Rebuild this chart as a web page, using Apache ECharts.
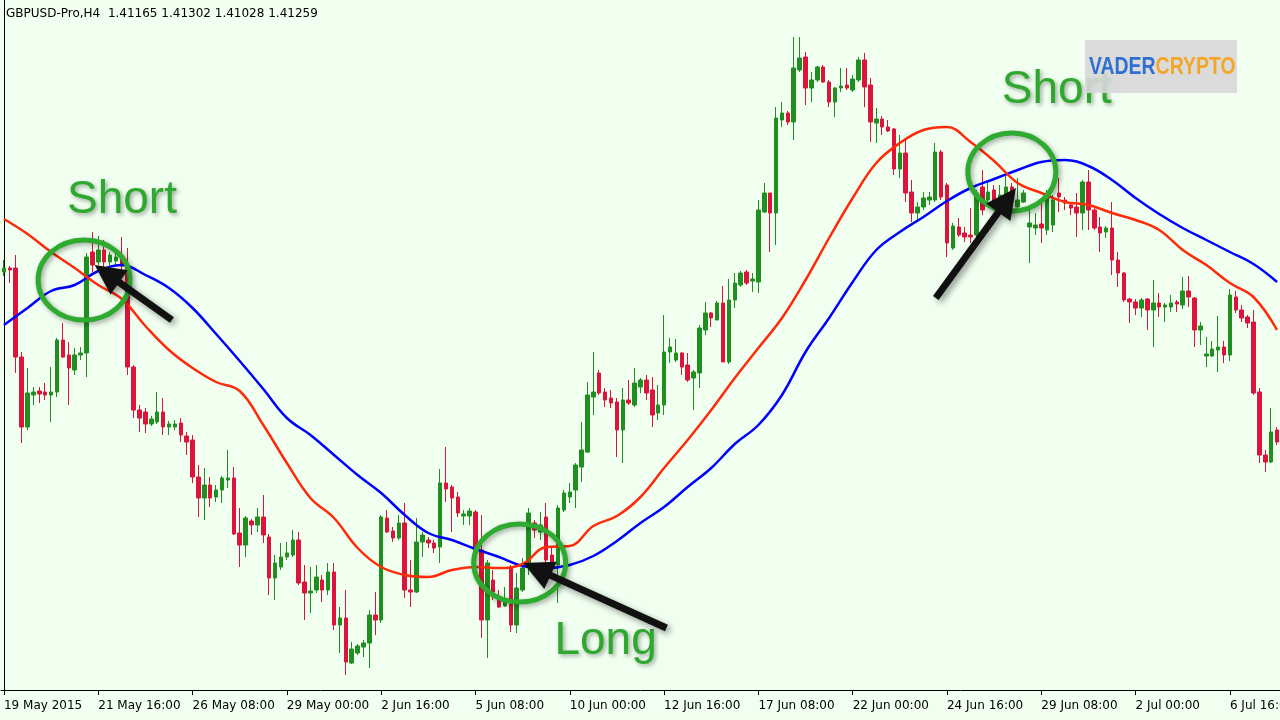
<!DOCTYPE html>
<html><head><meta charset="utf-8">
<script src="https://cdn.jsdelivr.net/npm/echarts@6/dist/echarts.min.js"></script>
<style>html,body{margin:0;padding:0;background:#f0fff0;}#c{width:1280px;height:720px;}</style>
</head><body><div id="c"></div>
<script>
// ---- data ----
const headerText = 'GBPUSD-Pro,H4  1.41165 1.41302 1.41028 1.41259';
const tickLabels = ['19 May 2015','21 May 16:00','26 May 08:00','29 May 00:00','2 Jun 16:00','5 Jun 08:00','10 Jun 00:00','12 Jun 16:00','17 Jun 08:00','22 Jun 00:00','24 Jun 16:00','29 Jun 08:00','2 Jul 00:00','6 Jul 16:00'];
const TICK_EVERY = 16;
// H4 candles: [open, close, low, high]
const candles = [
[1.5628,1.5632,1.5624,1.5640],[1.5632,1.5630,1.5617,1.5634],[1.5632,1.5543,1.5527,1.5645],[1.5543,1.5473,1.5457,1.5548],
[1.5473,1.5507,1.5470,1.5532],[1.5505,1.5508,1.5495,1.5513],[1.5509,1.5506,1.5497,1.5513],[1.5508,1.5505,1.5500,1.5517],
[1.5505,1.5508,1.5478,1.5533],[1.5508,1.5560,1.5503,1.5562],[1.5560,1.5543,1.5542,1.5577],[1.5545,1.5532,1.5495,1.5558],
[1.5530,1.5545,1.5525,1.5552],[1.5545,1.5547,1.5540,1.5553],[1.5547,1.5643,1.5523,1.5647],[1.5648,1.5635,1.5628,1.5668],
[1.5638,1.5650,1.5635,1.5664],[1.5650,1.5638,1.5632,1.5660],[1.5638,1.5645,1.5635,1.5648],[1.5639,1.5643,1.5634,1.5650],
[1.5643,1.5634,1.5628,1.5663],[1.5634,1.5533,1.5525,1.5652],[1.5533,1.5490,1.5482,1.5535],[1.5490,1.5482,1.5468,1.5495],
[1.5488,1.5476,1.5467,1.5492],[1.5476,1.5481,1.5474,1.5484],[1.5478,1.5488,1.5476,1.5508],[1.5488,1.5473,1.5465,1.5502],
[1.5473,1.5476,1.5465,1.5479],[1.5473,1.5476,1.5470,1.5480],[1.5477,1.5465,1.5458,1.5482],[1.5464,1.5458,1.5445,1.5468],
[1.5460,1.5423,1.5417,1.5465],[1.5423,1.5402,1.5383,1.5435],[1.5402,1.5415,1.5380,1.5432],[1.5415,1.5402,1.5393,1.5423],
[1.5403,1.5410,1.5398,1.5415],[1.5410,1.5422,1.5397,1.5424],[1.5420,1.5422,1.5412,1.5450],[1.5422,1.5366,1.5365,1.5433],
[1.5367,1.5355,1.5333,1.5392],[1.5355,1.5382,1.5343,1.5384],[1.5379,1.5375,1.5365,1.5381],[1.5375,1.5383,1.5368,1.5392],
[1.5383,1.5365,1.5357,1.5405],[1.5363,1.5322,1.5305,1.5366],[1.5322,1.5337,1.5300,1.5345],[1.5333,1.5343,1.5330,1.5357],
[1.5343,1.5347,1.5340,1.5358],[1.5345,1.5360,1.5343,1.5370],[1.5360,1.5317,1.5315,1.5368],[1.5318,1.5307,1.5280,1.5335],
[1.5307,1.5309,1.5287,1.5333],[1.5310,1.5323,1.5307,1.5335],[1.5320,1.5310,1.5298,1.5325],[1.5310,1.5328,1.5305,1.5337],
[1.5328,1.5275,1.5270,1.5337],[1.5275,1.5282,1.5247,1.5293],[1.5282,1.5238,1.5225,1.5310],[1.5237,1.5251,1.5236,1.5258],
[1.5247,1.5254,1.5245,1.5256],[1.5253,1.5257,1.5243,1.5260],[1.5257,1.5285,1.5232,1.5290],[1.5285,1.5280,1.5265,1.5308],
[1.5280,1.5383,1.5277,1.5385],[1.5382,1.5368,1.5367,1.5390],[1.5369,1.5362,1.5358,1.5373],[1.5362,1.5377,1.5360,1.5385],
[1.5377,1.5310,1.5302,1.5397],[1.5310,1.5308,1.5293,1.5340],[1.5308,1.5358,1.5307,1.5382],[1.5358,1.5365,1.5343,1.5368],
[1.5360,1.5357,1.5352,1.5363],[1.5357,1.5352,1.5347,1.5360],[1.5353,1.5417,1.5337,1.5431],[1.5417,1.5411,1.5398,1.5453],
[1.5413,1.5402,1.5368,1.5415],[1.5403,1.5387,1.5383,1.5408],[1.5384,1.5386,1.5375,1.5390],[1.5384,1.5389,1.5375,1.5392],
[1.5388,1.5350,1.5348,1.5390],[1.5350,1.5280,1.5262,1.5385],[1.5280,1.5337,1.5242,1.5340],[1.5320,1.5308,1.5300,1.5330],
[1.5302,1.5293,1.5292,1.5310],[1.5294,1.5300,1.5293,1.5313],[1.5333,1.5275,1.5268,1.5335],[1.5275,1.5312,1.5267,1.5327],
[1.5310,1.5332,1.5308,1.5342],[1.5333,1.5387,1.5325,1.5392],[1.5377,1.5370,1.5362,1.5380],[1.5368,1.5375,1.5360,1.5388],
[1.5383,1.5340,1.5337,1.5397],[1.5345,1.5338,1.5330,1.5352],[1.5335,1.5392,1.5297,1.5395],[1.5390,1.5407,1.5388,1.5410],
[1.5403,1.5408,1.5397,1.5417],[1.5410,1.5435,1.5392,1.5437],[1.5433,1.5450,1.5418,1.5478],[1.5448,1.5505,1.5447,1.5518],
[1.5503,1.5508,1.5485,1.5548],[1.5527,1.5507,1.5505,1.5530],[1.5508,1.5500,1.5493,1.5512],[1.5502,1.5497,1.5492,1.5510],
[1.5498,1.5470,1.5443,1.5502],[1.5470,1.5500,1.5437,1.5512],[1.5500,1.5497,1.5495,1.5520],[1.5495,1.5517,1.5493,1.5532],
[1.5513,1.5520,1.5507,1.5522],[1.5520,1.5507,1.5500,1.5525],[1.5510,1.5485,1.5473,1.5523],[1.5487,1.5495,1.5480,1.5515],
[1.5495,1.5548,1.5485,1.5585],[1.5548,1.5553,1.5537,1.5562],[1.5540,1.5547,1.5538,1.5561],[1.5547,1.5533,1.5525,1.5548],
[1.5535,1.5520,1.5518,1.5547],[1.5522,1.5528,1.5490,1.5530],[1.5527,1.5572,1.5512,1.5575],[1.5570,1.5587,1.5565,1.5598],
[1.5587,1.5582,1.5573,1.5588],[1.5580,1.5597,1.5580,1.5599],[1.5597,1.5538,1.5538,1.5614],[1.5538,1.5600,1.5536,1.5621],
[1.5600,1.5617,1.5592,1.5627],[1.5615,1.5627,1.5613,1.5629],[1.5628,1.5617,1.5615,1.5630],[1.5619,1.5621,1.5608,1.5627],
[1.5618,1.5690,1.5607,1.5700],[1.5688,1.5707,1.5687,1.5717],[1.5707,1.5687,1.5648,1.5707],[1.5687,1.5782,1.5655,1.5793],
[1.5780,1.5787,1.5773,1.5798],[1.5787,1.5778,1.5775,1.5789],[1.5778,1.5832,1.5760,1.5863],[1.5830,1.5842,1.5828,1.5863],
[1.5843,1.5812,1.5795,1.5848],[1.5812,1.5820,1.5798,1.5828],[1.5820,1.5833,1.5818,1.5834],[1.5833,1.5818,1.5817,1.5835],
[1.5818,1.5798,1.5793,1.5820],[1.5798,1.5812,1.5783,1.5813],[1.5812,1.5814,1.5808,1.5832],[1.5815,1.5812,1.5810,1.5832],
[1.5810,1.5821,1.5808,1.5825],[1.5820,1.5840,1.5818,1.5843],[1.5840,1.5813,1.5793,1.5847],[1.5815,1.5778,1.5758,1.5822],
[1.5777,1.5781,1.5757,1.5792],[1.5781,1.5773,1.5765,1.5784],[1.5773,1.5769,1.5768,1.5780],[1.5771,1.5731,1.5725,1.5772],
[1.5731,1.5747,1.5722,1.5765],[1.5747,1.5707,1.5698,1.5762],[1.5708,1.5687,1.5678,1.5720],[1.5687,1.5693,1.5680,1.5698],
[1.5693,1.5702,1.5690,1.5708],[1.5700,1.5703,1.5695,1.5708],[1.5700,1.5748,1.5698,1.5757],[1.5748,1.5703,1.5700,1.5750],
[1.5715,1.5657,1.5643,1.5717],[1.5652,1.5674,1.5650,1.5677],[1.5673,1.5665,1.5663,1.5682],[1.5667,1.5663,1.5658,1.5673],
[1.5665,1.5663,1.5657,1.5692],[1.5665,1.5707,1.5663,1.5710],[1.5713,1.5690,1.5685,1.5730],[1.5700,1.5708,1.5698,1.5717],
[1.5710,1.5698,1.5697,1.5715],[1.5701,1.5705,1.5700,1.5715],[1.5700,1.5713,1.5698,1.5727],[1.5713,1.5700,1.5693,1.5717],
[1.5693,1.5700,1.5690,1.5722],[1.5698,1.5707,1.5697,1.5710],[1.5673,1.5677,1.5637,1.5690],[1.5672,1.5675,1.5665,1.5687],
[1.5676,1.5672,1.5657,1.5697],[1.5670,1.5707,1.5665,1.5710],[1.5675,1.5700,1.5668,1.5705],[1.5707,1.5703,1.5688,1.5722],
[1.5700,1.5697,1.5690,1.5703],[1.5695,1.5692,1.5685,1.5697],[1.5693,1.5687,1.5663,1.5707],[1.5687,1.5718,1.5670,1.5720],
[1.5718,1.5690,1.5670,1.5730],[1.5690,1.5672,1.5670,1.5692],[1.5673,1.5667,1.5648,1.5683],[1.5668,1.5672,1.5662,1.5674],
[1.5672,1.5640,1.5625,1.5698],[1.5640,1.5627,1.5613,1.5648],[1.5627,1.5600,1.5598,1.5628],[1.5601,1.5598,1.5577,1.5602],
[1.5598,1.5592,1.5585,1.5601],[1.5592,1.5600,1.5583,1.5602],[1.5601,1.5590,1.5570,1.5602],[1.5590,1.5597,1.5553,1.5620],
[1.5597,1.5593,1.5583,1.5607],[1.5593,1.5595,1.5578,1.5597],[1.5593,1.5597,1.5588,1.5605],[1.5598,1.5596,1.5588,1.5600],
[1.5595,1.5609,1.5591,1.5623],[1.5609,1.5603,1.5593,1.5624],[1.5602,1.5570,1.5553,1.5603],[1.5570,1.5574,1.5555,1.5578],
[1.5544,1.5546,1.5533,1.5563],[1.5544,1.5551,1.5543,1.5559],[1.5550,1.5553,1.5528,1.5584],[1.5553,1.5545,1.5537,1.5559],
[1.5545,1.5605,1.5539,1.5611],[1.5603,1.5590,1.5587,1.5609],[1.5590,1.5582,1.5578,1.5595],[1.5583,1.5577,1.5572,1.5585],
[1.5578,1.5507,1.5505,1.5590],[1.5508,1.5445,1.5437,1.5512],[1.5445,1.5438,1.5428,1.5450],[1.5438,1.5468,1.5437,1.5492],
[1.5470,1.5458,1.5455,1.5473]
];
// moving averages read every MA_STEP bars
const MA_STEP = 4;
const maRed = [1.5681,1.5666,1.5648,1.5632,1.5615,1.5601,1.5574,1.5550,1.5532,1.5518,1.5509,1.5475,1.5437,1.5402,1.5382,1.5352,1.5333,1.5325,1.5323,1.5330,1.5333,1.5332,1.5336,1.5353,1.5354,1.5374,1.5384,1.5403,1.5432,1.5460,1.5490,1.5522,1.5552,1.5582,1.5620,1.5662,1.5702,1.5737,1.5757,1.5770,1.5773,1.5758,1.5739,1.5717,1.5707,1.5698,1.5695,1.5687,1.5680,1.5670,1.5650,1.5635,1.5617,1.5603,1.5570];
const maBlue = [1.5575,1.5592,1.5609,1.5615,1.5629,1.5635,1.5625,1.5612,1.5592,1.5566,1.5539,1.5511,1.5482,1.5465,1.5445,1.5425,1.5407,1.5385,1.5367,1.5360,1.5351,1.5343,1.5334,1.5332,1.5335,1.5344,1.5359,1.5377,1.5393,1.5413,1.5432,1.5456,1.5475,1.5505,1.5548,1.5582,1.5618,1.5650,1.5668,1.5683,1.5699,1.5712,1.5721,1.5730,1.5738,1.5740,1.5734,1.5720,1.5702,1.5686,1.5672,1.5660,1.5648,1.5636,1.5618];
// annotations anchored to [bar index, price]
const circleCenters = [[13.6,1.5620],[87.5,1.5337],[171.0,1.5728]];
const circleRadii = [[46,40],[46,39],[44,39]];
const arrows = [ // [tail, tip]
  [[28.5,1.5580],[15.4,1.5635]],
  [[112.4,1.5272],[88.1,1.5337]],
  [[158.1,1.5602],[171.7,1.5712]]
];
const labels = [ // [text, bar index (left), price (middle)]
  ['Short',10.7,1.5700],
  ['Long',93.4,1.5259],
  ['Short',169.3,1.5810]
];

// ---- categories (H4 bars, weekends skipped) ----
const MON = ['Jan','Feb','Mar','Apr','May','Jun','Jul','Aug','Sep','Oct','Nov','Dec'];
const categories = [];
(function(){ let t = Date.UTC(2015,4,19,0,0);
  while (categories.length < candles.length) { const d = new Date(t); const wd = d.getUTCDay();
    if (wd !== 0 && wd !== 6) categories.push(d.getUTCDate()+' '+MON[d.getUTCMonth()]+' '+String(d.getUTCHours()).padStart(2,'0')+':00');
    t += 4*3600e3; } })();
const N = candles.length;

const chart = echarts.init(document.getElementById('c'), null, {renderer:'canvas'});
const option = {
  animation: false,
  backgroundColor: '#f0fff0',
  grid: {left: 1, right: 0, top: 0, bottom: 30, containLabel: false, outerBoundsMode: 'none'},
  xAxis: [{
    type: 'category', data: categories, boundaryGap: true,
    axisLine: {show: true, lineStyle: {color: '#000', width: 1}},
    axisTick: {show: true, alignWithLabel: true, length: 5, lineStyle: {color:'#000'}, interval: (i) => i % TICK_EVERY === 0},
    axisLabel: {interval: 0, align: 'left', margin: 10, color: '#000', fontFamily: 'DejaVu Sans', fontSize: 12, hideOverlap: false,
      formatter: (v, i) => i % TICK_EVERY === 0 ? (tickLabels[i / TICK_EVERY] || '') : ''},
    splitLine: {show: false}
  }, {
    type: 'value', min: -0.5, max: N - 0.5, show: false
  }],
  yAxis: [{
    type: 'value', min: 1.5210, max: 1.5900, scale: true,
    axisLine: {show: true, lineStyle: {color: '#000', width: 1}},
    axisTick: {show: false}, axisLabel: {show: false}, splitLine: {show: false}
  }],
  series: [{
    type: 'candlestick', xAxisIndex: 0, yAxisIndex: 0, data: candles, barWidth: 4,
    itemStyle: {color: '#1f8f1f', color0: '#dc143c', borderColor: '#1f8f1f', borderColor0: '#dc143c', borderWidth: 1}
  }, {
    type: 'line', xAxisIndex: 1, yAxisIndex: 0, smooth: 0.4, symbol: 'none',
    data: maBlue.map((v, k) => [k * MA_STEP, v]),
    lineStyle: {color: '#0000ff', width: 2.5}, z: 3
  }, {
    type: 'line', xAxisIndex: 1, yAxisIndex: 0, smooth: 0.4, symbol: 'none',
    data: maRed.map((v, k) => [k * MA_STEP, v]),
    lineStyle: {color: '#ff2a0a', width: 2.5}, z: 3
  }]
};
chart.setOption(option);

function px(p){ return chart.convertToPixel({seriesIndex: 1}, p); }
const graphics = [];
graphics.push({type:'text', z: 50, style:{x: 6, y: 8, text: headerText, fill:'#000', font:'12px "DejaVu Sans"', verticalAlign:'top'}});
// labels
labels.forEach(([t, i, p]) => { const q = px([i, p]);
  graphics.push({type:'text', z: 60, style:{x: q[0], y: q[1], text: t, fill:'#2fa82f', font:'46px "Liberation Sans", Arial, sans-serif',
    align:'left', verticalAlign:'middle', textShadowColor:'rgba(0,0,0,0.35)', textShadowBlur:4, textShadowOffsetX:2, textShadowOffsetY:2}}); });
// circles
circleCenters.forEach((c, k) => { const q = px(c);
  graphics.push({type:'ellipse', z: 70, shape:{cx: q[0], cy: q[1], rx: circleRadii[k][0], ry: circleRadii[k][1]},
    style:{fill:'none', stroke:'#2eab2e', lineWidth: 5, shadowBlur: 5, shadowColor:'rgba(0,0,0,0.35)', shadowOffsetX: 2, shadowOffsetY: 2}}); });
// arrows
arrows.forEach(([a, b]) => { const T = px(a), P = px(b);
  const dx = P[0]-T[0], dy = P[1]-T[1], L = Math.hypot(dx, dy), ux = dx/L, uy = dy/L, nx = -uy, ny = ux;
  const hl = 30, hw = 15, w = 3.5; const B = [P[0]-ux*hl, P[1]-uy*hl];
  const pts = [[T[0]+nx*w, T[1]+ny*w],[B[0]+nx*w, B[1]+ny*w],[B[0]+nx*hw, B[1]+ny*hw],[P[0],P[1]],[B[0]-nx*hw, B[1]-ny*hw],[B[0]-nx*w, B[1]-ny*w],[T[0]-nx*w, T[1]-ny*w]];
  graphics.push({type:'polygon', z: 80, shape:{points: pts}, style:{fill:'#111', shadowBlur: 6, shadowColor:'rgba(0,0,0,0.4)', shadowOffsetX: 3, shadowOffsetY: 3}}); });
// watermark
graphics.push({type:'rect', z: 90, shape:{x:1085, y:40, width:152, height:53}, style:{fill:'rgba(215,215,215,0.9)'}});
graphics.push({type:'text', z: 91, x: 1089, y: 67, scaleX: 0.81, style:{x: 0, y: 0, text:'{a|VADER}{b|CRYPTO}', verticalAlign:'middle', align:'left',
  rich:{a:{fill:'#2f6fd3', font:'bold 24px "Liberation Sans", Arial'}, b:{fill:'#f4a62a', font:'bold 24px "Liberation Sans", Arial'}}}});
chart.setOption({graphic: graphics});
</script></body></html>
